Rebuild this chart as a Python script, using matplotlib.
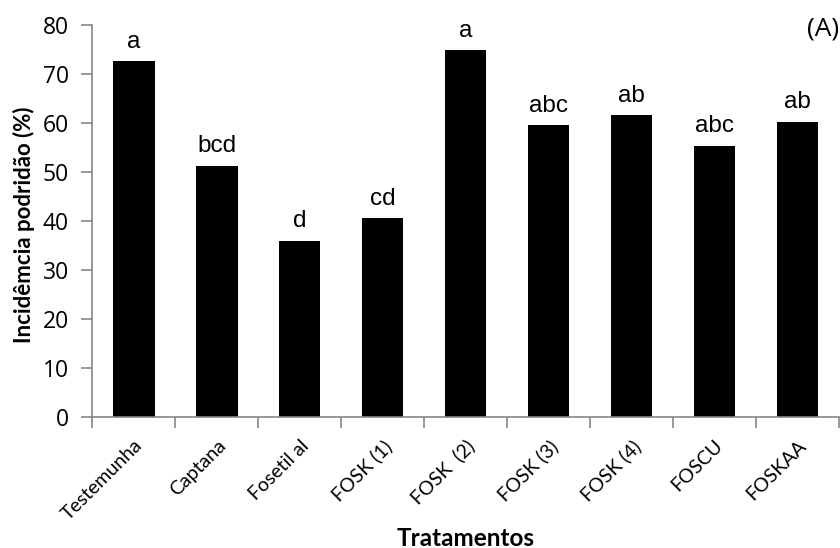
import matplotlib

matplotlib.use("Agg")

import matplotlib.pyplot as plt  # noqa: E402
import numpy as np  # noqa: E402

tratamentos = ["Testemunha", "Captana", "Fosetil al", "FOSK (1)", "FOSK  (2)",
               "FOSK (3)", "FOSK (4)", "FOSCU", "FOSKAA"]
incidencia = [72.6, 51.3, 36.0, 40.6, 74.8, 59.6, 61.6, 55.4, 60.3]
letras = ["a", "bcd", "d", "cd", "a", "abc", "ab", "abc", "ab"]

AXIS_GRAY = "#868686"

fig = plt.figure(figsize=(8.4, 5.48), dpi=100)
ax = fig.add_axes([0.110, 0.2385, 0.8885, 0.7159])

x = np.arange(len(tratamentos))
ax.bar(x, incidencia, width=0.5, color="black", edgecolor="none")

for xi, val, lt in zip(x, incidencia, letras):
    ax.annotate(lt, (xi, val), xytext=(0, 6), textcoords="offset points",
                ha="center", va="bottom", fontsize=17.5, family="Liberation Sans")

ax.set_xlim(-0.5, len(tratamentos) - 0.5)
ax.set_ylim(0, 80)
ax.set_yticks(np.arange(0, 81, 10))

# category labels on major ticks, boundary marks on minor ticks
ax.set_xticks(x)
ax.set_xticks(np.arange(-0.5, len(tratamentos)), minor=True)
ax.set_xticklabels(tratamentos, rotation=45, ha="right", va="top",
                   rotation_mode="anchor", fontsize=14, family="Lato")
ax.tick_params(axis="x", which="major", length=0, pad=14)
ax.tick_params(axis="x", which="minor", length=8, color=AXIS_GRAY, width=1.2)
ax.tick_params(axis="y", length=8, color=AXIS_GRAY, width=1.2, pad=9)
for lbl in ax.get_yticklabels():
    lbl.set_fontsize(16.5)
    lbl.set_family("Open Sans")

for side in ("top", "right"):
    ax.spines[side].set_visible(False)
for side in ("left", "bottom"):
    ax.spines[side].set_color(AXIS_GRAY)
    ax.spines[side].set_linewidth(1.2)

ax.set_ylabel("Incidêmcia podridão (%)", fontsize=16, fontweight="bold", family="Lato")
ax.yaxis.set_label_coords(-0.077, 0.49)
ax.set_xlabel("Tratamentos", fontsize=17.5, fontweight="bold", family="Lato", va="center")
ax.xaxis.set_label_coords(0.5, -0.308)

ax.text(1.0, 0.99, "(A)", transform=ax.transAxes, ha="right", va="center",
        fontsize=19, family="Open Sans")

fig.savefig("out.png", dpi=100)
plt.close(fig)
